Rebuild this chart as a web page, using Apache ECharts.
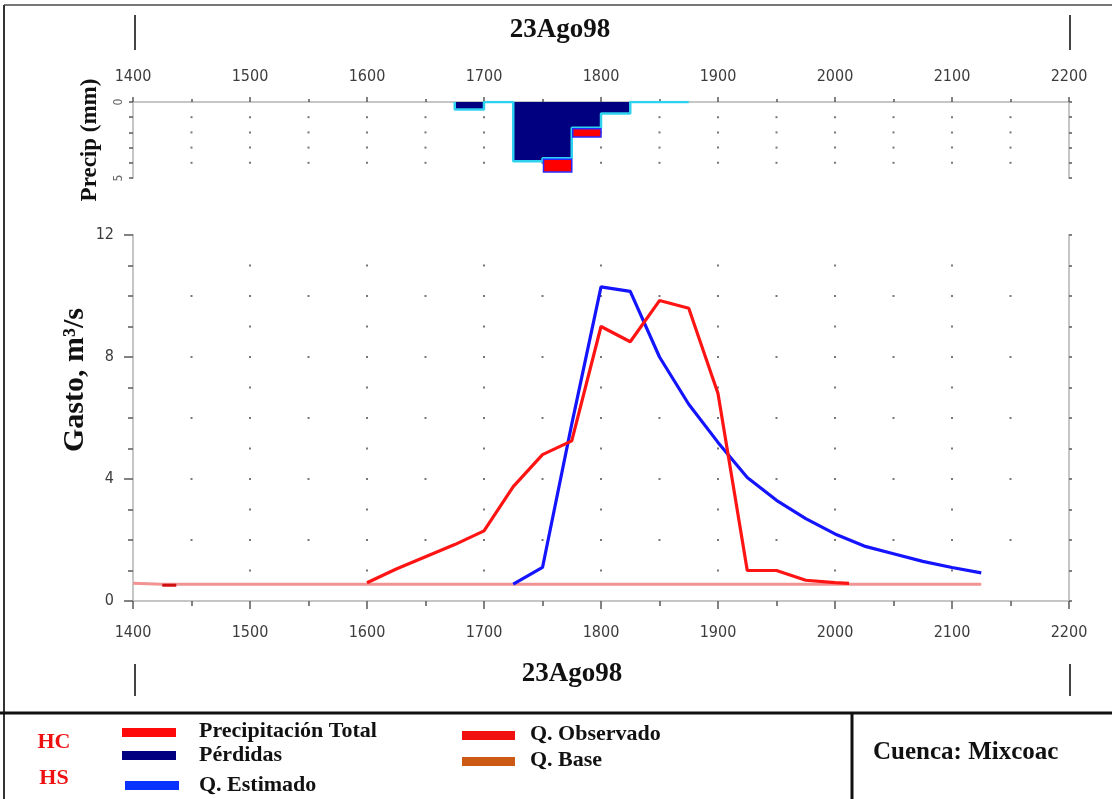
<!DOCTYPE html>
<html>
<head>
<meta charset="utf-8">
<script src="https://cdn.jsdelivr.net/npm/echarts/dist/echarts.min.js"></script>
<style>
  html, body { margin: 0; padding: 0; background: #fff; }
  #chart { width: 1112px; height: 799px; }
</style>
</head>
<body>
<div id="chart"></div>
<script>
// ---- Hyetograph, 25-unit intervals (mm) ----
const precipStart = [1675, 1700, 1725, 1750, 1775, 1800, 1825, 1850];
const precipTotal = [0.5, 0, 3.9, 4.6, 2.3, 0.75, 0, 0];
const precipLoss  = [0.5, 0, 3.9, 3.7, 1.7, 0.75, 0, 0];
const precipStep  = 25;

// ---- Hydrographs (m3/s) ----
const obsEarlyTime = [1425, 1437];
const obsEarlyQ    = [0.52, 0.52];
const obsTime = [1600, 1625, 1650, 1675, 1700, 1725, 1750, 1775, 1800, 1825, 1850, 1875, 1900, 1925, 1950, 1975, 2000, 2012];
const obsQ    = [0.6, 1.05, 1.45, 1.85, 2.3, 3.75, 4.8, 5.25, 9.0, 8.5, 9.85, 9.6, 6.8, 1.0, 1.0, 0.68, 0.6, 0.58];
const estTime = [1725, 1750, 1775, 1800, 1825, 1850, 1875, 1900, 1925, 1950, 1975, 2000, 2025, 2050, 2075, 2100, 2125];
const estQ    = [0.55, 1.1, 5.8, 10.3, 10.15, 8.0, 6.45, 5.2, 4.05, 3.3, 2.7, 2.2, 1.8, 1.55, 1.3, 1.1, 0.92];
const baseTime = [1400, 1425, 2125];
const baseQ    = [0.58, 0.55, 0.55];

// ---- Axis ranges / tick labels ----
const timeMin = 1400, timeMax = 2200, timeStep = 100;
const precipTicks = [0, 5];
const qTicks = [0, 4, 8, 12];
const dateLabel = '23Ago98';

const serif = "'Liberation Serif', 'Times New Roman', serif";
const tickFont = "'DejaVu Sans Condensed', 'Liberation Sans Narrow', 'DejaVu Sans', sans-serif";
const axisGray = '#c6c6c6';
const tickGray = '#5a5a5a';

const pairs = (xs, ys) => xs.map((x, i) => [x, ys[i]]);

// Loss outline: step path following the losses of each interval
const lossOutline = [[precipStart[0], 0]];
precipStart.forEach((s, i) => {
  lossOutline.push([s, precipLoss[i]]);
  lossOutline.push([s + precipStep, precipLoss[i]]);
});
lossOutline.push([precipStart[precipStart.length - 1] + precipStep, 0]);

// Background dot lattice of both panels
const dotsTop = [];
for (let x = 1450; x <= 2150; x += 50) for (let y = 1; y <= 4; y++) dotsTop.push([x, y]);
const dotsBottom = [];
for (let y = 1; y <= 11; y++) {
  for (let x = 1450; x <= 2150; x += 50) {
    if (y % 2 === 0 || x % 100 === 0) dotsBottom.push([x, y]);
  }
}

const chart = echarts.init(document.getElementById('chart'), null, { renderer: 'canvas' });

function timeAxis(grid, position, opts) {
  return Object.assign({
    type: 'value', gridIndex: grid, position: position,
    min: timeMin, max: timeMax, interval: timeStep,
    axisLine: { show: true, lineStyle: { color: axisGray, width: 2 } },
    axisTick: { show: true, length: 5, lineStyle: { color: tickGray, width: 1.5 } },
    minorTick: { show: true, splitNumber: 2, length: 3, lineStyle: { color: tickGray, width: 1.5 } },
    axisLabel: { show: false },
    splitLine: { show: false }
  }, opts);
}

const lineLabel = { color: '#3c3c3c', fontSize: 16, fontFamily: tickFont, formatter: v => String(v) };

const option = {
  animation: false,
  backgroundColor: '#fff',
  grid: [
    { left: 133, top: 102, width: 936, height: 76, show: false },
    { left: 133, top: 235, width: 936, height: 366, show: false }
  ],
  xAxis: [
    timeAxis(0, 'top', { axisLabel: Object.assign({ show: true, margin: 17 }, lineLabel) }),
    timeAxis(0, 'bottom', { axisTick: { show: true, inside: true, length: 5, lineStyle: { color: tickGray, width: 1.5 } },
                            minorTick: { show: false } }),
    timeAxis(1, 'bottom', { axisTick: { show: true, length: 8, lineStyle: { color: tickGray, width: 1.5 } },
                            minorTick: { show: true, splitNumber: 2, length: 5, lineStyle: { color: tickGray, width: 1.5 } },
                            axisLabel: Object.assign({ show: true, margin: 24 }, lineLabel) }),
    timeAxis(1, 'top', { axisTick: { show: true, inside: true, length: 4, lineStyle: { color: tickGray, width: 1.5 } },
                         minorTick: { show: true, splitNumber: 2, length: 4, lineStyle: { color: tickGray, width: 1.5 } } })
  ],
  yAxis: [
    {
      type: 'value', gridIndex: 0, position: 'left', inverse: true,
      min: 0, max: 5, interval: 1,
      name: 'Precip (mm)', nameLocation: 'middle', nameGap: 31, nameRotate: 90,
      nameTextStyle: { fontFamily: serif, fontWeight: 'bold', fontSize: 23, color: '#111' },
      axisLine: { show: true, lineStyle: { color: axisGray, width: 2 } },
      axisTick: { show: true, length: 4, lineStyle: { color: tickGray, width: 1.5 } },
      axisLabel: {
        show: true, rotate: 90, margin: 8, fontSize: 12, color: '#666', fontFamily: tickFont,
        formatter: v => (precipTicks.indexOf(v) >= 0 ? String(v) : '')
      },
      splitLine: { show: false }
    },
    {
      type: 'value', gridIndex: 0, position: 'right', inverse: true,
      min: 0, max: 5, interval: 1,
      axisLine: { show: true, lineStyle: { color: axisGray, width: 2 } },
      axisTick: { show: true, length: 3, lineStyle: { color: tickGray, width: 1.5 } },
      axisLabel: { show: false }, splitLine: { show: false }
    },
    {
      type: 'value', gridIndex: 1, position: 'left',
      min: 0, max: 12, interval: 4,
      axisLine: { show: true, lineStyle: { color: axisGray, width: 2 } },
      axisTick: { show: true, length: 9, lineStyle: { color: tickGray, width: 1.5 } },
      minorTick: { show: true, splitNumber: 4, length: 5, lineStyle: { color: tickGray, width: 1.5 } },
      axisLabel: Object.assign({}, lineLabel, { show: true, margin: 19,
        formatter: v => (qTicks.indexOf(v) >= 0 ? String(v) : '') }),
      splitLine: { show: false }
    },
    {
      type: 'value', gridIndex: 1, position: 'right',
      min: 0, max: 12, interval: 1,
      axisLine: { show: true, lineStyle: { color: axisGray, width: 2 } },
      axisTick: { show: true, length: 3, lineStyle: { color: tickGray, width: 1.5 } },
      axisLabel: { show: false }, splitLine: { show: false }
    }
  ],
  series: [
    // dot lattice
    { type: 'scatter', xAxisIndex: 0, yAxisIndex: 0, data: dotsTop, symbol: 'rect', symbolSize: 2,
      itemStyle: { color: '#555' }, silent: true, z: 1 },
    { type: 'scatter', xAxisIndex: 2, yAxisIndex: 2, data: dotsBottom, symbol: 'rect', symbolSize: 2,
      itemStyle: { color: '#555' }, silent: true, z: 1 },

    // losses (navy blocks)
    {
      type: 'custom', xAxisIndex: 0, yAxisIndex: 0, z: 2,
      data: precipStart.map((s, i) => [s, s + precipStep, precipLoss[i]]),
      renderItem: (params, api) => {
        const loss = api.value(2);
        if (loss <= 0) return null;
        const a = api.coord([api.value(0), 0]);
        const b = api.coord([api.value(1), loss]);
        return { type: 'rect', shape: { x: a[0], y: a[1], width: b[0] - a[0] + 0.5, height: b[1] - a[1] },
                 style: { fill: '#000080' } };
      }
    },
    // outline of losses
    { type: 'line', xAxisIndex: 0, yAxisIndex: 0, z: 3, data: lossOutline, showSymbol: false,
      lineStyle: { color: '#2fd2ee', width: 2.5 } },
    // part of total precipitation exceeding losses
    {
      type: 'custom', xAxisIndex: 0, yAxisIndex: 0, z: 4,
      data: precipStart.map((s, i) => [s, s + precipStep, precipLoss[i], precipTotal[i]]),
      renderItem: (params, api) => {
        const loss = api.value(2), tot = api.value(3);
        if (tot <= loss) return null;
        const a = api.coord([api.value(0), loss]);
        const b = api.coord([api.value(1), tot]);
        return { type: 'rect', shape: { x: a[0] + 1, y: a[1] + 1, width: b[0] - a[0] - 1, height: b[1] - a[1] - 1 },
                 style: { fill: '#ff0000', stroke: '#2828ff', lineWidth: 1.5 } };
      }
    },

    // hydrographs
    { name: 'Q. Base', type: 'line', xAxisIndex: 2, yAxisIndex: 2, z: 3, data: pairs(baseTime, baseQ),
      showSymbol: false, lineStyle: { color: '#f29494', width: 3 } },
    { name: 'Q. Estimado', type: 'line', xAxisIndex: 2, yAxisIndex: 2, z: 4, data: pairs(estTime, estQ),
      showSymbol: false, lineStyle: { color: '#1414ff', width: 3.2 } },
    { name: 'Q. Observado', type: 'line', xAxisIndex: 2, yAxisIndex: 2, z: 5, data: pairs(obsTime, obsQ),
      showSymbol: false, lineStyle: { color: '#ff1414', width: 3.2 } },
    { name: 'Q. Observado', type: 'line', xAxisIndex: 2, yAxisIndex: 2, z: 5, data: pairs(obsEarlyTime, obsEarlyQ),
      showSymbol: false, lineStyle: { color: '#d01010', width: 3 } }
  ],
  graphic: [
    // frame
    { type: 'line', shape: { x1: 4, y1: 5, x2: 1112, y2: 5 }, style: { stroke: '#4a4a4a', lineWidth: 1.5 } },
    { type: 'line', shape: { x1: 4, y1: 5, x2: 4, y2: 799 }, style: { stroke: '#333', lineWidth: 2 } },
    { type: 'line', shape: { x1: 0, y1: 713, x2: 1112, y2: 713 }, style: { stroke: '#111', lineWidth: 3 } },
    { type: 'line', shape: { x1: 852, y1: 713, x2: 852, y2: 799 }, style: { stroke: '#111', lineWidth: 3 } },

    // discharge axis title
    { type: 'text', x: 75, y: 380, rotation: Math.PI / 2,
      style: { text: 'Gasto, m³/s', font: "bold 30px " + serif, fill: '#111', align: 'center', verticalAlign: 'middle' } },

    // date captions with side markers
    { type: 'text', x: 560, y: 30, style: { text: dateLabel, font: "bold 27px " + serif, fill: '#111', align: 'center', verticalAlign: 'middle' } },
    { type: 'text', x: 572, y: 674, style: { text: dateLabel, font: "bold 27px " + serif, fill: '#111', align: 'center', verticalAlign: 'middle' } },
    { type: 'line', shape: { x1: 135, y1: 15, x2: 135, y2: 50 }, style: { stroke: '#444', lineWidth: 2 } },
    { type: 'line', shape: { x1: 1070, y1: 15, x2: 1070, y2: 50 }, style: { stroke: '#444', lineWidth: 2 } },
    { type: 'line', shape: { x1: 135, y1: 664, x2: 135, y2: 696 }, style: { stroke: '#444', lineWidth: 2 } },
    { type: 'line', shape: { x1: 1070, y1: 664, x2: 1070, y2: 696 }, style: { stroke: '#444', lineWidth: 2 } },

    // legend
    { type: 'text', x: 54, y: 742, style: { text: 'HC', font: "bold 22px " + serif, fill: '#ee1111', align: 'center', verticalAlign: 'middle' } },
    { type: 'text', x: 54, y: 778, style: { text: 'HS', font: "bold 22px " + serif, fill: '#ee1111', align: 'center', verticalAlign: 'middle' } },

    { type: 'rect', shape: { x: 122, y: 728, width: 54, height: 9 }, style: { fill: '#ff0a0a' } },
    { type: 'rect', shape: { x: 122, y: 751, width: 54, height: 9 }, style: { fill: '#000080' } },
    { type: 'rect', shape: { x: 125, y: 781, width: 54, height: 9 }, style: { fill: '#0a32ff' } },
    { type: 'text', x: 199, y: 731, style: { text: 'Precipitación Total', font: "bold 22px " + serif, fill: '#111', verticalAlign: 'middle' } },
    { type: 'text', x: 199, y: 755, style: { text: 'Pérdidas', font: "bold 22px " + serif, fill: '#111', verticalAlign: 'middle' } },
    { type: 'text', x: 199, y: 785, style: { text: 'Q. Estimado', font: "bold 22px " + serif, fill: '#111', verticalAlign: 'middle' } },

    { type: 'rect', shape: { x: 462, y: 731, width: 53, height: 9 }, style: { fill: '#f01010' } },
    { type: 'rect', shape: { x: 462, y: 757, width: 53, height: 9 }, style: { fill: '#cc5a14' } },
    { type: 'text', x: 530, y: 734, style: { text: 'Q. Observado', font: "bold 22px " + serif, fill: '#111', verticalAlign: 'middle' } },
    { type: 'text', x: 530, y: 760, style: { text: 'Q. Base', font: "bold 22px " + serif, fill: '#111', verticalAlign: 'middle' } },

    { type: 'text', x: 873, y: 753, style: { text: 'Cuenca: Mixcoac', font: "bold 25px " + serif, fill: '#111', verticalAlign: 'middle' } }
  ]
};

chart.setOption(option);
</script>
</body>
</html>
